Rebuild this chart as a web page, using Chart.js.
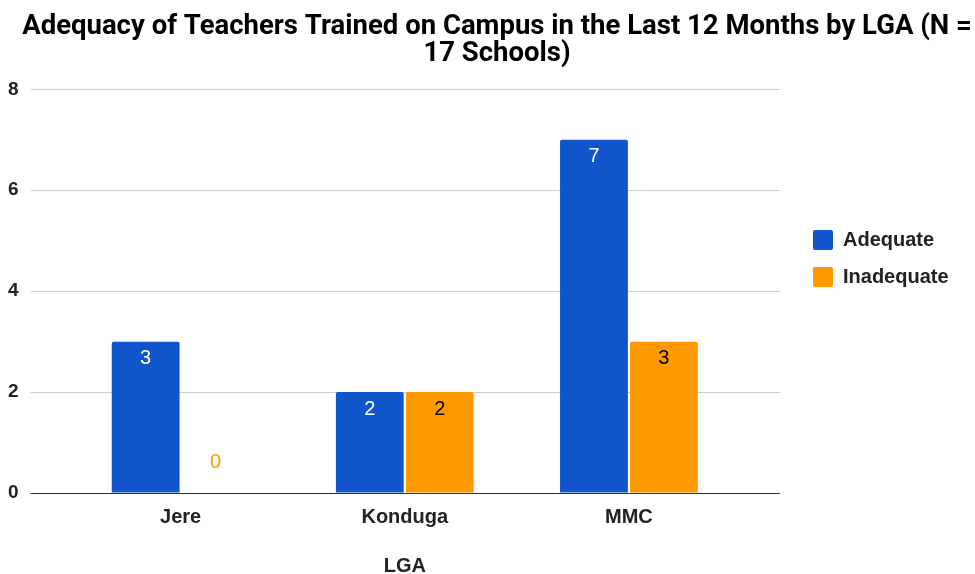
<!DOCTYPE html>
<html lang="en">
<head>
  <meta charset="UTF-8">
  <title>Adequacy of Teachers Trained on Campus</title>
  <style>
    body {
      margin: 0;
      padding: 0;
      background: #ffffff;
    }

    .chart-container {
      width: 975px;
      height: 574px;
    }
  </style>
  <script src="https://cdn.jsdelivr.net/npm/chart.js"></script>
</head>
<body>
  <div class="chart-container">
    <canvas id="myChart" width="975" height="574"></canvas>
  </div>

  <script>
    // Données du graphique
    const lgaLabels = ['Jere', 'Konduga', 'MMC'];
    const adequateValues = [3, 2, 7];
    const inadequateValues = [0, 2, 3];
    const yTicks = [0, 2, 4, 6, 8];

    const blue = '#1155cc';
    const orange = '#ff9900';
    const fontFamily = '"Liberation Sans", Arial, sans-serif';
    const titleFamily = 'Roboto, "Liberation Sans", sans-serif';

    // plugin maison pour les étiquettes de valeurs
    const valueLabels = {
      id: 'valueLabels',
      afterDatasetsDraw(chart) {
        const ctx = chart.ctx;
        ctx.save();
        ctx.font = '20px ' + fontFamily;
        ctx.textAlign = 'center';
        ctx.textBaseline = 'middle';
        chart.data.datasets.forEach((ds, i) => {
          const meta = chart.getDatasetMeta(i);
          meta.data.forEach((bar, j) => {
            const v = ds.data[j];
            let y;
            if (v === 0) {
              ctx.fillStyle = ds.backgroundColor;
              y = bar.y - 31;
            } else {
              ctx.fillStyle = ds.labelColor;
              y = bar.y + 17;
            }
            ctx.fillText(String(v), bar.x, y);
          });
        });
        ctx.restore();
      }
    };

    // le titre est centré sur toute la largeur de l'image, pas sur la zone moins la légende
    const titleShift = {
      id: 'titleShift',
      afterLayout(chart) {
        const t = chart.titleBlock;
        if (t) {
          t.left += 21;
          t.right += 21;
        }
      }
    };

    const gridColor = (c) => (c.tick && c.tick.value === 0) ? '#333333' : '#cccccc';

    const ctx = document.getElementById('myChart').getContext('2d');
    const myChart = new Chart(ctx, {
      type: 'bar',
      data: {
        labels: lgaLabels,
        datasets: [{
          label: 'Adequate',
          data: adequateValues,
          backgroundColor: blue,
          labelColor: '#ffffff',
          borderRadius: 2,
          borderSkipped: 'bottom',
          barPercentage: 0.97,
          categoryPercentage: 0.624
        }, {
          label: 'Inadequate',
          data: inadequateValues,
          backgroundColor: orange,
          labelColor: '#000000',
          borderRadius: 2,
          borderSkipped: 'bottom',
          barPercentage: 0.97,
          categoryPercentage: 0.624
        }]
      },
      options: {
        responsive: false,
        animation: false,
        layout: {
          padding: { left: -4, right: 19, top: 0, bottom: -2 }
        },
        plugins: {
          title: {
            display: true,
            text: ['Adequacy of Teachers Trained on Campus in the Last 12 Months by LGA (N =', '17 Schools)'],
            color: '#000000',
            font: { family: titleFamily, size: 27.5, weight: 'bold', lineHeight: 0.97 },
            padding: { top: 14, bottom: 22 }
          },
          legend: {
            position: 'right',
            align: 'start',
            title: {
              display: true,
              text: ' ',
              font: { size: 10, lineHeight: 1 },
              padding: { top: 203, bottom: 0 }
            },
            labels: {
              boxWidth: 20,
              boxHeight: 20,
              useBorderRadius: true,
              borderRadius: 2,
              padding: 17,
              color: '#222222',
              font: { family: fontFamily, size: 20, weight: 'bold' }
            }
          },
          tooltip: { enabled: false }
        },
        scales: {
          x: {
            grid: { display: false, drawTicks: false },
            border: { display: false },
            ticks: {
              color: '#222222',
              padding: 12,
              font: { family: fontFamily, size: 20, weight: 'bold' }
            },
            title: {
              display: true,
              text: 'LGA',
              color: '#222222',
              padding: { top: 15, bottom: 0 },
              font: { family: fontFamily, size: 20, weight: 'bold', lineHeight: 1.0 }
            }
          },
          y: {
            min: 0,
            max: 8,
            afterBuildTicks: (axis) => { axis.ticks = yTicks.map(v => ({ value: v })); },
            grid: { color: gridColor, lineWidth: 1, tickLength: 38 },
            border: { display: false },
            ticks: {
              color: '#222222',
              padding: 12,
              font: { family: fontFamily, size: 19, weight: 'bold' }
            }
          },
          yRight: {
            position: 'right',
            min: 0,
            max: 8,
            afterBuildTicks: (axis) => { axis.ticks = yTicks.map(v => ({ value: v })); },
            afterFit: (axis) => { axis.width = 55; },
            grid: { color: gridColor, drawOnChartArea: false, tickLength: 39 },
            border: { display: false },
            ticks: { display: false }
          }
        }
      },
      plugins: [valueLabels, titleShift]
    });
  </script>
</body>
</html>
